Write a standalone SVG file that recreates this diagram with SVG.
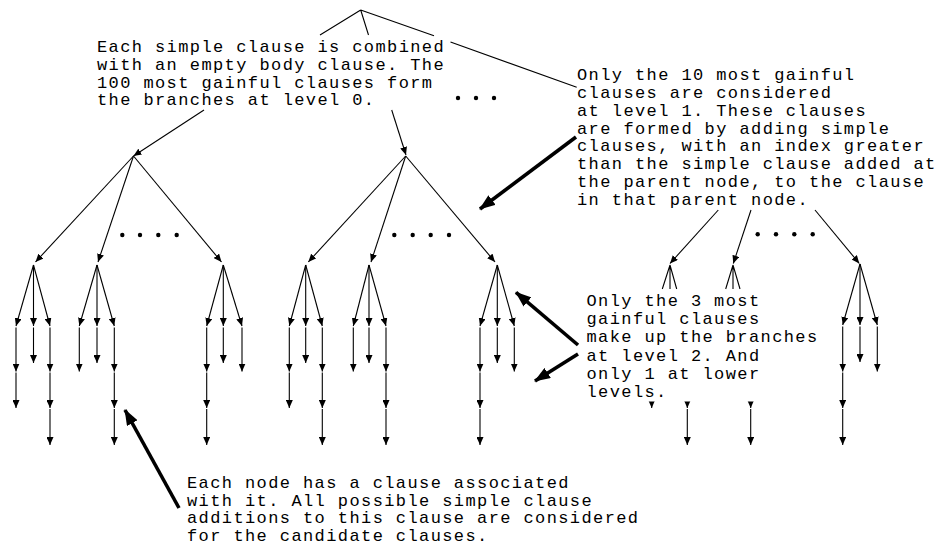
<svg xmlns="http://www.w3.org/2000/svg" width="938" height="547" viewBox="0 0 938 547">
<defs>
<style>
.t{font-family:"Liberation Mono","Courier New",monospace;font-size:17px;letter-spacing:1.4px;fill:#000}
.e{stroke:#000;stroke-width:1.1;fill:none;marker-end:url(#ah)}
.p{stroke:#000;stroke-width:1.1;fill:none}
.k{stroke:#000;stroke-width:3.6;fill:none;marker-end:url(#ahk)}
.d{fill:#000}
.bg{fill:#fff}
</style>
<marker id="ah" markerUnits="userSpaceOnUse" markerWidth="8" markerHeight="7" refX="8" refY="3.5" orient="auto">
<path d="M0,0 L8,3.5 L0,7 z" fill="#000"/>
</marker>
<marker id="ahk" markerUnits="userSpaceOnUse" markerWidth="16" markerHeight="12" refX="15" refY="6" orient="auto">
<path d="M0,0 L16,6 L0,12 z" fill="#000"/>
</marker>
</defs>
<rect width="938" height="547" fill="#fff"/>

<g id="connectors">
<!-- root -->
<path class="p" d="M360.7,10 L320,35 M360.7,10 L368.5,35 M360.7,10 L434,35.7 M450.5,42 L576.7,87.3"/>
<!-- from level 0 text to level-1 nodes -->
<path class="e" d="M204,110 L133.5,156"/>
<path class="e" d="M391.7,110 L406,155"/>
<!-- left tree -->
<path class="e" d="M133.5,156 L35.5,262"/>
<path class="e" d="M133.5,156 L98,262"/>
<path class="e" d="M133.5,156 L221.5,262"/>
<!-- A -->
<path class="e" d="M33.5,265 L16,326"/>
<path class="e" d="M33.5,265 L33.5,326"/>
<path class="e" d="M33.5,265 L50,326"/>
<path class="e" d="M16,327.5 L16,371.5"/>
<path class="e" d="M16,372.5 L16,408"/>
<path class="e" d="M33.5,327.5 L33.5,363"/>
<path class="e" d="M50,327.5 L50,371.5"/>
<path class="e" d="M50,372.5 L50,408"/>
<path class="e" d="M50,409 L50,445"/>
<!-- B -->
<path class="e" d="M97,265 L79.3,326"/>
<path class="e" d="M97,265 L97,326"/>
<path class="e" d="M97,265 L114.3,326"/>
<path class="e" d="M79.3,327.5 L79.3,371.5"/>
<path class="e" d="M97,327.5 L97,363"/>
<path class="e" d="M114.3,327.5 L114.3,371.5"/>
<path class="e" d="M114.3,372.5 L114.3,408"/>
<path class="e" d="M114.3,409 L114.3,445"/>
<!-- C -->
<path class="e" d="M223.3,265 L206.7,326"/>
<path class="e" d="M223.3,265 L223.3,326"/>
<path class="e" d="M223.3,265 L242,326"/>
<path class="e" d="M206.7,327.5 L206.7,371.5"/>
<path class="e" d="M206.7,372.5 L206.7,408"/>
<path class="e" d="M206.7,409 L206.7,445"/>
<path class="e" d="M223.3,327.5 L223.3,363"/>
<path class="e" d="M242,327.5 L242,371.5"/>
<!-- middle tree -->
<path class="e" d="M405.7,156 L308.3,262"/>
<path class="e" d="M405.7,156 L371,262"/>
<path class="e" d="M405.7,156 L495,262"/>
<!-- D -->
<path class="e" d="M305.7,265 L289.3,326"/>
<path class="e" d="M305.7,265 L305.7,326"/>
<path class="e" d="M305.7,265 L322.3,326"/>
<path class="e" d="M289.3,327.5 L289.3,371.5"/>
<path class="e" d="M289.3,372.5 L289.3,408"/>
<path class="e" d="M305.7,327.5 L305.7,363"/>
<path class="e" d="M322.3,327.5 L322.3,371.5"/>
<path class="e" d="M322.3,372.5 L322.3,408"/>
<path class="e" d="M322.3,409 L322.3,445"/>
<!-- E -->
<path class="e" d="M369,265 L353.3,326"/>
<path class="e" d="M369,265 L369,326"/>
<path class="e" d="M369,265 L386,326"/>
<path class="e" d="M353.3,327.5 L353.3,371.5"/>
<path class="e" d="M369,327.5 L369,363"/>
<path class="e" d="M386,327.5 L386,371.5"/>
<path class="e" d="M386,372.5 L386,408"/>
<path class="e" d="M386,409 L386,445"/>
<!-- F -->
<path class="e" d="M497.3,265 L480,326"/>
<path class="e" d="M497.3,265 L497.3,326"/>
<path class="e" d="M497.3,265 L514.3,326"/>
<path class="e" d="M480,327.5 L480,371.5"/>
<path class="e" d="M480,372.5 L480,408"/>
<path class="e" d="M480,409 L480,445"/>
<path class="e" d="M497.3,327.5 L497.3,363"/>
<path class="e" d="M514.3,327.5 L514.3,371.5"/>
<!-- right tree -->
<path class="e" d="M718.3,210 L670,263.5"/>
<path class="e" d="M751,210 L733.3,263.5"/>
<path class="e" d="M815,210 L859.3,263.5"/>
<path class="p" d="M670,265 L662.3,289 M670,265 L670,289 M670,265 L676.7,289"/>
<path class="p" d="M733,265 L725.7,289 M733,265 L733,289 M733,265 L740,289"/>
<path class="e" d="M651.7,392 L651.7,408"/>
<path class="e" d="M687.3,392 L687.3,408"/>
<path class="e" d="M687.3,409 L687.3,445"/>
<path class="e" d="M750.7,392 L750.7,408"/>
<path class="e" d="M750.7,409 L750.7,445"/>
<!-- I -->
<path class="e" d="M860,264 L842.7,325"/>
<path class="e" d="M860,264 L860,325"/>
<path class="e" d="M860,264 L877.3,325"/>
<path class="e" d="M842.7,326.5 L842.7,371.5"/>
<path class="e" d="M842.7,372.5 L842.7,408"/>
<path class="e" d="M842.7,409 L842.7,445"/>
<path class="e" d="M860,326.5 L860,362"/>
<path class="e" d="M877.3,326.5 L877.3,371.5"/>
<!-- thick pointer arrows -->
<path class="k" d="M576,137 L480,209"/>
<path class="k" d="M578,345 L516,292.3"/>
<path class="k" d="M578,354 L535,381"/>
<path class="k" d="M179,508 L125,410"/>
</g>

<g id="dots">
<circle class="d" cx="458" cy="98" r="2.2"/><circle class="d" cx="476" cy="98" r="2.2"/><circle class="d" cx="494" cy="98" r="2.2"/>
<circle class="d" cx="122.3" cy="235" r="2.2"/><circle class="d" cx="140" cy="235" r="2.2"/><circle class="d" cx="158.3" cy="235" r="2.2"/><circle class="d" cx="176.7" cy="235" r="2.2"/>
<circle class="d" cx="394.3" cy="235" r="2.2"/><circle class="d" cx="412.7" cy="235" r="2.2"/><circle class="d" cx="430.7" cy="235" r="2.2"/><circle class="d" cx="449" cy="235" r="2.2"/>
<circle class="d" cx="757.7" cy="234.3" r="2.2"/><circle class="d" cx="776" cy="234.3" r="2.2"/><circle class="d" cx="794.3" cy="234.3" r="2.2"/><circle class="d" cx="812.7" cy="234.3" r="2.2"/>
</g>

<g id="note-level0">
<text class="t" x="97" y="52.3">Each simple clause is combined</text>
<text class="t" x="97" y="70">with an empty body clause. The</text>
<text class="t" x="97" y="87.6">100 most gainful clauses form</text>
<text class="t" x="97" y="105.2">the branches at level 0.</text>
</g>

<g id="note-level1">
<text class="t" x="577" y="80">Only the 10 most gainful</text>
<text class="t" x="577" y="97.9">clauses are considered</text>
<text class="t" x="577" y="115.7">at level 1. These clauses</text>
<text class="t" x="577" y="133.6">are formed by adding simple</text>
<text class="t" x="577" y="151.4">clauses, with an index greater</text>
<text class="t" x="577" y="169.3">than the simple clause added at</text>
<text class="t" x="577" y="187.1">the parent node, to the clause</text>
<text class="t" x="577" y="205">in that parent node.</text>
</g>

<g id="note-level2">
<rect class="bg" x="585" y="289.5" width="236" height="112"/>
<text class="t" x="586.5" y="306">Only the 3 most</text>
<text class="t" x="586.5" y="324.2">gainful clauses</text>
<text class="t" x="586.5" y="342.4">make up the branches</text>
<text class="t" x="586.5" y="360.6">at level 2. And</text>
<text class="t" x="586.5" y="378.8">only 1 at lower</text>
<text class="t" x="586.5" y="397">levels.</text>
</g>

<g id="note-node">
<text class="t" x="187" y="488">Each node has a clause associated</text>
<text class="t" x="187" y="505.7">with it. All possible simple clause</text>
<text class="t" x="187" y="523.3">additions to this clause are considered</text>
<text class="t" x="187" y="541">for the candidate clauses.</text>
</g>
</svg>
